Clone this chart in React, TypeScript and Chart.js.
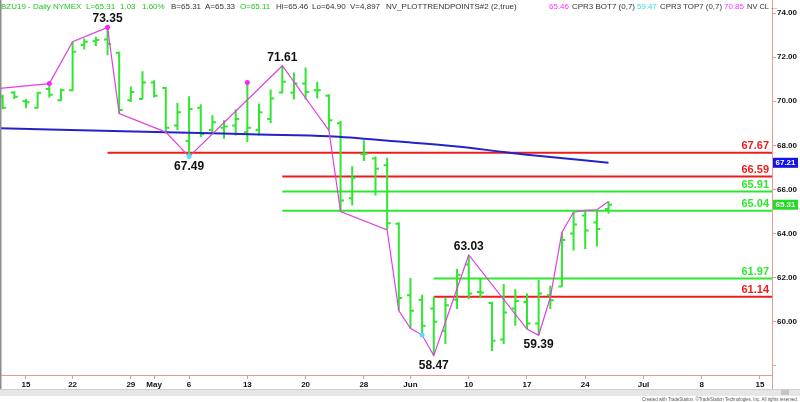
import React, { useEffect, useRef } from "react";
import { Chart, registerables } from "chart.js";
Chart.register(...registerables);

const FONT = "'Liberation Sans', Arial, sans-serif";

// trading-day index (0 = Apr 15, 2019)
const barIdx = [-2, -1, 0, 1, 2, 3, 4, 5, 6, 7, 8, 9, 10, 11, 12, 13, 14, 15, 16, 17, 18, 19, 20, 21, 22, 23, 24, 25, 26, 27, 28, 29, 30, 31, 32, 33, 34, 35, 36, 37, 38, 39, 40, 41, 42, 43, 44, 45, 46, 47, 48, 49, 50];
const opens = [70.2, 70.4, 70.0, 69.7, 70.55, 70.05, 70.5, 72.55, 72.72, 72.8, 72.2, 70.05, 70.1, 70.85, 70.6, 68.9, 68.2, 69.7, 68.7, 68.8, 68.9, 68.6, 68.7, 69.2, 70.4, 70.38, 70.8, 70.5, 70.25, 69.0, 65.6, 67.6, 67.4, 67.1, 64.45, 61.2, 61.0, 60.6, 59.6, 61.0, 62.6, 61.35, 60.85, 59.2, 60.6, 60.9, 59.92, 61.2, 61.6, 64.0, 64.82, 64.5, 65.11];
const highs = [70.3, 70.45, 70.1, 70.42, 70.72, 70.58, 72.7, 72.85, 72.92, 73.35, 72.24, 70.67, 71.36, 70.95, 70.65, 69.92, 70.23, 69.86, 69.36, 69.14, 69.64, 70.8, 69.9, 70.53, 71.61, 71.3, 71.53, 70.88, 70.32, 69.1, 67.05, 68.23, 67.5, 67.44, 64.51, 61.99, 61.23, 61.15, 61.1, 62.4, 63.03, 61.94, 60.91, 61.71, 61.48, 61.29, 61.9, 61.64, 64.06, 64.97, 65.05, 65.08, 65.46];
const lows = [69.65, 70.1, 69.68, 69.67, 70.17, 70.0, 70.47, 72.35, 72.5, 72.09, 69.44, 69.97, 70.09, 70.17, 68.6, 68.68, 67.49, 68.38, 68.53, 68.3, 68.45, 68.15, 68.45, 69.01, 70.35, 70.08, 70.08, 70.12, 68.68, 65.0, 65.27, 67.29, 65.73, 64.17, 60.5, 59.71, 59.4, 58.47, 59.0, 60.58, 61.03, 61.1, 58.68, 58.99, 59.82, 59.67, 59.39, 60.58, 61.59, 63.23, 63.3, 63.41, 64.9];
const closes = [69.7, 70.2, 69.95, 70.38, 70.3, 70.5, 72.24, 72.7, 72.78, 72.6, 69.6, 70.42, 70.85, 70.25, 68.8, 69.5, 69.65, 68.5, 69.05, 68.85, 69.2, 68.8, 69.5, 70.12, 70.88, 70.8, 70.42, 70.5, 69.14, 65.5, 66.53, 67.62, 66.94, 64.47, 61.08, 60.5, 59.82, 60.0, 60.75, 62.14, 61.29, 61.33, 59.14, 60.42, 60.95, 59.92, 61.29, 60.98, 63.71, 64.41, 64.14, 64.21, 65.31];

const tickIndex = [0, 4, 9, 11, 14, 19, 24, 29, 33, 38, 43, 48, 53, 58, 63];
const tickLabels = ["15", "22", "29", "May", "6", "13", "20", "28", "Jun", "10", "17", "24", "Jul", "8", "15"];
const yTicks = [58, 60, 62, 64, 66, 68, 70, 72, 74];

const zigIdx = [-2.23, 2, 4, 7, 8, 12, 14, 22, 26, 27, 31, 32, 33, 34, 35, 38, 43, 44, 45, 46, 47, 48, 49, 50];
const zigVals = [70.58, 70.8, 72.7, 73.35, 69.44, 68.6, 67.49, 71.61, 68.68, 65.0, 64.17, 60.5, 59.71, 59.4, 58.47, 63.03, 59.67, 59.39, 61.1, 64.06, 64.97, 65.05, 65.08, 65.46];

const maIdx = [-3, 12, 20, 26, 32, 37, 41, 43, 50];
const maVals = [68.78, 68.6, 68.49, 68.41, 68.17, 67.95, 67.7, 67.58, 67.21];

const dotIdx = [2, 7, 19, 14, 34];
const dotVals = [70.8, 73.35, 70.85, 67.49, 59.4];
const dotColors = ["#ff22ff", "#ff22ff", "#ff22ff", "#55ddff", "#55ddff"];

const levelVals = [67.67, 66.59, 65.91, 65.04, 61.97, 61.14];
const levelStart = [7, 22, 22, 22, 35, 35];
const levelKind = ["r", "r", "g", "g", "g", "r"];

const pivotIdx = [7, 22, 14, 38, 35, 44];
const pivotVals = [73.35, 71.61, 67.49, 63.03, 58.47, 59.39];
const pivotHigh = [true, true, false, true, false, false];

const flagVals = [67.21, 65.31];
const flagColors = ["#1414e6", "#22dd22"];

const RED = "#ec1c1c";
const GREEN = "#2ee82e";
const BAR_GREEN = "#30e630";
const AXIS = "#e59a9a";

const headerSegs: [string, number, string][] = [
  ["BZU19 - Daily", 1, "#22c422"],
  ["NYMEX", 53, "#22c422"],
  ["L=65.31", 86, "#22c422"],
  ["1.03", 120, "#22c422"],
  ["1.60%", 142, "#22c422"],
  ["B=65.31", 171, "#333"],
  ["A=65.33", 205, "#333"],
  ["O=65.11", 240, "#22c422"],
  ["Hi=65.46", 276, "#333"],
  ["Lo=64.90", 312, "#333"],
  ["V=4,897", 350, "#333"],
  ["NV_PLOTTRENDPOINTS#2 (2,true)", 386, "#333"],
  ["65.46", 549, "#ff33ff"],
  ["CPR3 BOT7 (0,7)", 572, "#333"],
  ["59.47", 637, "#33dddd"],
  ["CPR3 TOP7 (0,7)", 660, "#333"],
  ["70.85", 724, "#ff33ff"],
  ["NV CL", 747, "#333"],
  ["...", 771, "#333"],
];

const overlay = {
  id: "overlay",
  afterDatasetsDraw(chart: any) {
    const ctx = chart.ctx;
    const x = chart.scales.x;
    const y = chart.scales.y;
    const area = chart.chartArea;
    ctx.save();
    ctx.font = `bold 11px ${FONT}`;
    ctx.textAlign = "right";
    ctx.textBaseline = "alphabetic";
    levelVals.forEach((v, i) => {
      ctx.fillStyle = levelKind[i] === "r" ? RED : GREEN;
      ctx.fillText(v.toFixed(2), area.right - 3, y.getPixelForValue(v) - 3.5);
    });
    ctx.font = `bold 12px ${FONT}`;
    ctx.fillStyle = "#111";
    ctx.textAlign = "center";
    pivotVals.forEach((v, i) => {
      const px = x.getPixelForValue(pivotIdx[i]);
      const py = y.getPixelForValue(v);
      ctx.fillText(v.toFixed(2), px, pivotHigh[i] ? py - 5 : py + 13);
    });
    ctx.font = `8px ${FONT}`;
    ctx.textAlign = "left";
    headerSegs.forEach(([t, hx, c], i) => {
      const next = i + 1 < headerSegs.length ? headerSegs[i + 1][1] : 779;
      ctx.fillStyle = c;
      ctx.fillText(t, hx, 8.5, next - hx - 2);
    });
    ctx.restore();
  },
  afterDraw(chart: any) {
    const ctx = chart.ctx;
    const y = chart.scales.y;
    const area = chart.chartArea;
    ctx.save();
    ctx.font = `bold 8px ${FONT}`;
    ctx.textAlign = "center";
    ctx.textBaseline = "middle";
    flagVals.forEach((v, i) => {
      const py = y.getPixelForValue(v);
      ctx.fillStyle = flagColors[i];
      ctx.fillRect(area.right + 1, py - 5, 25, 10);
      ctx.fillStyle = "#fff";
      ctx.fillText(v.toFixed(2), area.right + 13.5, py + 0.5);
    });
    ctx.fillStyle = "#8c8c8c";
    ctx.fillRect(0, 0, 1.5, 389);
    ctx.strokeStyle = AXIS;
    ctx.lineWidth = 1;
    ctx.beginPath();
    ctx.moveTo(area.right + 0.5, area.bottom);
    ctx.lineTo(area.right + 0.5, 389);
    ctx.stroke();
    ctx.fillStyle = "#e6e6e6";
    ctx.fillRect(0, 389, 800, 7);
    ctx.fillStyle = "#cfcfcf";
    ctx.fillRect(0, 389, 800, 1);
    ctx.fillStyle = "#c4c4c4";
    ctx.fillRect(781, 390, 8, 5);
    ctx.fillStyle = "#555";
    ctx.font = `5px ${FONT}`;
    ctx.textAlign = "right";
    ctx.textBaseline = "alphabetic";
    ctx.fillText("Created with TradeStation. \u00A9TradeStation Technologies, Inc. All rights reserved.", 798, 401, 156);
    ctx.restore();
  },
};

const zeroPad = (s: any) => {
  s.paddingTop = 0;
  s.paddingBottom = 0;
  s.paddingLeft = 0;
  s.paddingRight = 0;
};

export default function App() {
  const ref = useRef<HTMLCanvasElement>(null);
  useEffect(() => {
    const canvas = ref.current!;
    const ohlc: any[] = [];
    barIdx.forEach((bx, k) => {
      ohlc.push({ x: bx, y: lows[k] }, { x: bx, y: highs[k] }, { x: bx, y: null });
      ohlc.push({ x: bx - 0.3, y: opens[k] }, { x: bx, y: opens[k] }, { x: bx, y: null });
      ohlc.push({ x: bx, y: closes[k] }, { x: bx + 0.3, y: closes[k] }, { x: bx, y: null });
    });
    const levelSets = levelVals.map((v, i) => ({
      type: "line",
      data: [{ x: levelStart[i], y: v }, { x: 70, y: v }],
      borderColor: levelKind[i] === "r" ? RED : GREEN,
      borderWidth: 2,
      pointRadius: 0,
      order: 5,
    }));
    const chart = new Chart(canvas, {
      type: "line",
      data: {
        datasets: [
          {
            data: dotIdx.map((d, i) => ({ x: d, y: dotVals[i] })),
            showLine: false,
            pointRadius: 2.5,
            pointBorderWidth: 0,
            pointBackgroundColor: dotColors,
            order: 0,
          },
          {
            data: zigIdx.map((d, i) => ({ x: d, y: zigVals[i] })),
            borderColor: "#e040e0",
            borderWidth: 1.2,
            pointRadius: 0,
            order: 1,
          },
          {
            data: maIdx.map((d, i) => ({ x: d, y: maVals[i] })),
            borderColor: "#2323c8",
            borderWidth: 2,
            pointRadius: 0,
            cubicInterpolationMode: "monotone",
            order: 2,
          },
          {
            data: ohlc,
            borderColor: BAR_GREEN,
            borderWidth: 2,
            pointRadius: 0,
            spanGaps: false,
            borderCapStyle: "butt",
            order: 3,
          },
          ...levelSets,
        ] as any,
      },
      options: {
        responsive: false,
        animation: false,
        devicePixelRatio: 1,
        events: [],
        layout: { padding: 0, autoPadding: false },
        plugins: { legend: { display: false }, tooltip: { enabled: false } },
        scales: {
          x: {
            type: "linear",
            min: -2.23,
            max: 64.03,
            position: "bottom",
            afterBuildTicks: (s: any) => {
              s.ticks = tickIndex.map((v) => ({ value: v }));
            },
            afterFit: (s: any) => {
              s.height = 27;
              zeroPad(s);
            },
            grid: { drawOnChartArea: false, drawTicks: true, tickLength: 4, color: AXIS },
            border: { color: AXIS, width: 1 },
            ticks: {
              autoSkip: false,
              maxRotation: 0,
              color: "#111",
              padding: 1,
              font: { family: FONT, size: 8, weight: "bold" },
              callback: (_v: any, i: number) => tickLabels[i] ?? "",
            },
          },
          y: {
            type: "linear",
            position: "right",
            min: 57.59,
            max: 74.59,
            afterBuildTicks: (s: any) => {
              s.ticks = yTicks.map((v) => ({ value: v }));
            },
            afterFit: (s: any) => {
              s.width = 28;
              zeroPad(s);
            },
            grid: { drawOnChartArea: false, drawTicks: true, tickLength: 4, color: AXIS },
            border: { color: AXIS, width: 1 },
            ticks: {
              color: "#111",
              padding: 1,
              font: { family: FONT, size: 8, weight: "bold" },
              callback: (v: any) => (v === 58 ? "" : Number(v).toFixed(2)),
            },
          },
        },
      } as any,
      plugins: [overlay],
    });
    return () => chart.destroy();
  }, []);
  return (
    <div style={{ position: "absolute", left: 0, top: 0, width: 800, height: 402, background: "#fff" }}>
      <canvas ref={ref} width={800} height={402} />
    </div>
  );
}
